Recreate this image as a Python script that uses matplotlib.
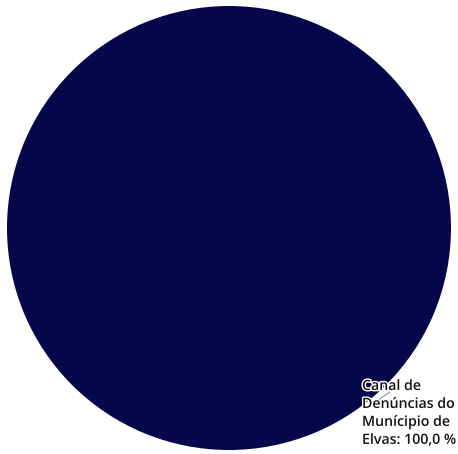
import matplotlib.pyplot as plt
import matplotlib.patheffects as pe

labels = ["Canal de Denúncias do Município de Elvas"]
values = [100.0]
colors = ["#06064b"]

fig = plt.figure(figsize=(4.58, 4.54), dpi=100)
ax = fig.add_axes([0, 0, 1, 1])

ax.pie(values, colors=colors, center=(229, 228), radius=222,
       startangle=90, counterclock=False, frame=True,
       wedgeprops=dict(linewidth=0))
ax.set_xlim(0, 458)
ax.set_ylim(454, 0)
ax.set_aspect("equal")
ax.axis("off")

share = values[0] / sum(values) * 100
label = "Canal de\nDenúncias do\nMunícipio de\nElvas: %.1f %%" % share
label = label.replace(".", ",")

# leader line from the slice edge to the label
ax.plot([372, 390], [404, 392], color="#8a8fc8", linewidth=0.8)
ax.text(362, 379, label, fontsize=10.2, family="Open Sans", fontweight="semibold",
        color="#141414", va="top", ha="left", linespacing=1.36,
        path_effects=[pe.withStroke(linewidth=2, foreground="white")])

fig.savefig("out.png", dpi=100)
